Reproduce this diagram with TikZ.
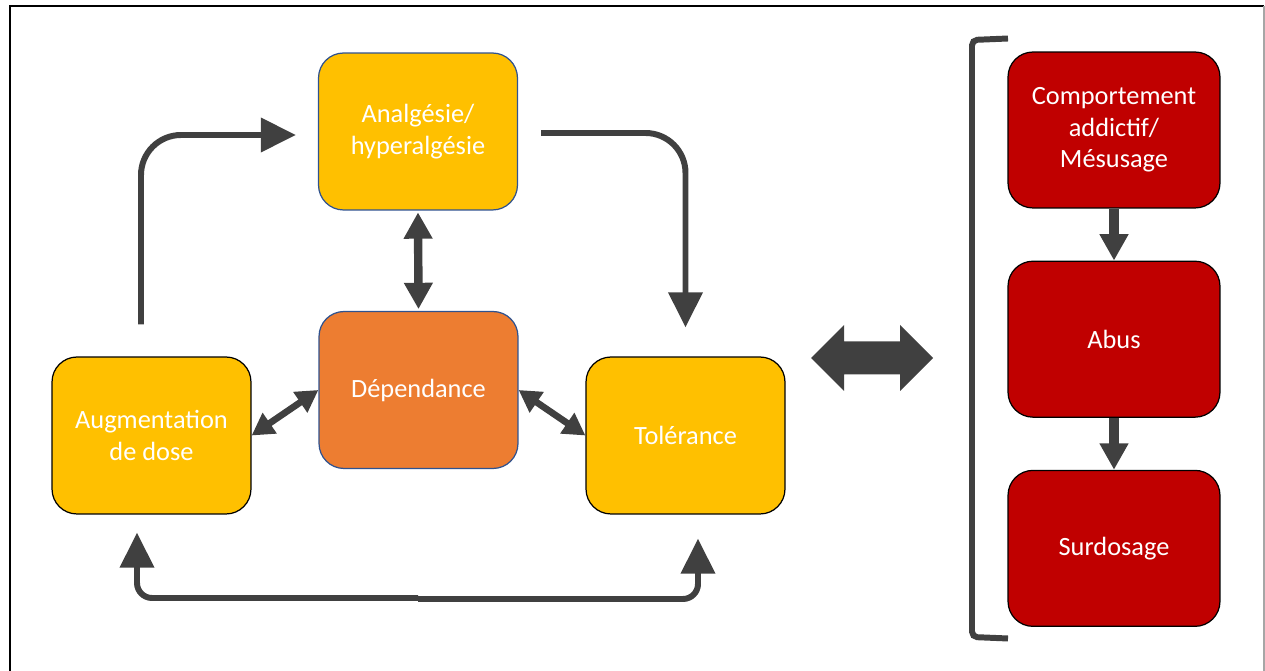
\documentclass[tikz,border=0pt]{standalone}
\usepackage{fontspec}
\setmainfont{Carlito}
\usetikzlibrary{arrows.meta,positioning}
\definecolor{ambre}{HTML}{FFC000}
\definecolor{orangedep}{HTML}{ED7D31}
\definecolor{rouge}{HTML}{C00000}
\definecolor{bleubord}{HTML}{2F528F}
\definecolor{gris}{HTML}{404040}

\begin{document}
\begin{tikzpicture}[
    x=0.02cm, y=-0.02cm,
    font=\fontsize{15pt}{18pt}\selectfont,
    % Define styles for the blocks
    cyclebox/.style={rectangle, draw=black, line width=0.7pt, rounded corners=0.5cm, fill=ambre, text=white, align=center, minimum width=3.98cm, minimum height=3.14cm, inner sep=0pt},
    riskbox/.style={rectangle, draw=black, line width=0.7pt, rounded corners=0.5cm, fill=rouge, text=white, align=center, minimum width=4.24cm, minimum height=3.12cm, inner sep=0pt},
    flow/.style={draw=gris, line width=3.4pt, -{Triangle[length=20pt,width=19pt]}},
    swing/.style={draw=gris, line width=3.8pt, {Triangle[length=12.5pt,width=13.5pt]}-{Triangle[length=12.5pt,width=13.5pt]}},
    bigswing/.style={draw=gris, line width=4.8pt, {Triangle[length=15pt,width=15.5pt]}-{Triangle[length=15pt,width=15.5pt]}},
    step down/.style={draw=gris, line width=5.7pt, -{Triangle[length=15pt,width=15.5pt]}}
]
\useasboundingbox (0,0) rectangle (1265,671);

% ==========================================
% Frame
% ==========================================
\draw[black, line width=1.4pt] (10,675) -- (10,6) -- (1264,6);
\draw[gray!70, line width=0.6pt] (1264,6) -- (1264,675);

% ==========================================
% Cycle (left)
% ==========================================
\node[cyclebox, draw=bleubord] (ana) at (418,131.5) {Analgésie/\\hyperalgésie};
\node[cyclebox, draw=bleubord, fill=orangedep] (dep) at (418.5,390) {Dépendance};
\node[cyclebox] (aug) at (151.5,435.5) {Augmentation\\de dose};
\node[cyclebox] (tol) at (685.5,435.5) {Tolérance};

\draw[flow, rounded corners=0.8cm] ([xshift=-0.21cm, yshift=0.64cm]aug.north) |- ([xshift=-0.44cm, yshift=-0.07cm]ana.west);
\draw[flow, rounded corners=0.8cm] ([xshift=0.46cm, yshift=-0.03cm]ana.east) -| ([yshift=0.58cm]tol.north);

\draw[bigswing] ([yshift=-1pt]ana.south) -- ([yshift=1pt]dep.north);
\draw[swing] (dep.west) -- (aug.east);
\draw[swing] (dep.east) -- (tol.west);

% bottom return, split in the middle
\coordinate (low) at (418,598);
\draw[flow, rounded corners=0.3cm] (low) -| ([xshift=-0.29cm, yshift=-0.36cm]aug.south);
\draw[flow, rounded corners=0.3cm] ([yshift=-0.02cm]low) -| ([xshift=0.25cm, yshift=-0.48cm]tol.south);

% ==========================================
% Link between both parts
% ==========================================
\coordinate (swap) at (872,358);
\fill[gris, shift={(swap)}] (-61,0) -- (-28,-33) -- (-28,-16.5) -- (28,-16.5) -- (28,-33) -- (61,0)
    -- (28,33) -- (28,16.5) -- (-28,16.5) -- (-28,33) -- cycle;

% ==========================================
% Risks (right)
% ==========================================
\node[riskbox] (comp) at (1114,130) {Comportement\\addictif/\\Mésusage};
\node[riskbox, below=1.04cm of comp] (abus) {Abus};
\node[riskbox, below=1.04cm of abus] (surd) {Surdosage};

\draw[step down] (comp) -- (abus);
\draw[step down] (abus) -- (surd);

% bracket
\draw[gris, line width=3.4pt, rounded corners=3pt] (1008,38.5) -- (972,40) -- (972,637) -- (1008,638.5);

\end{tikzpicture}
\end{document}
